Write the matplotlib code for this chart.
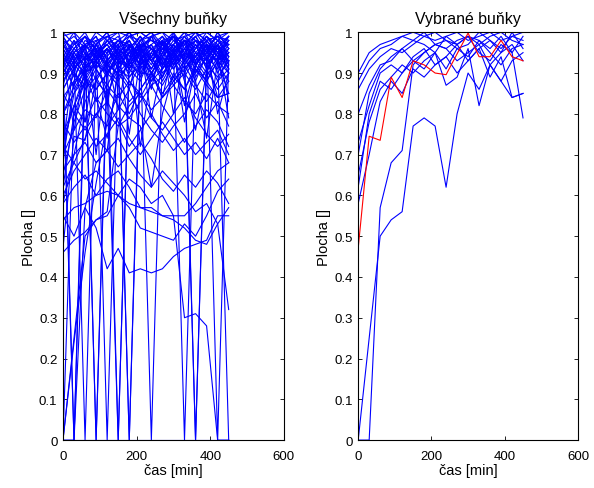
import matplotlib
matplotlib.use('Agg')
import matplotlib.pyplot as plt

plt.rcParams['font.family'] = ['Liberation Sans', 'DejaVu Sans']
plt.rcParams['font.size'] = 9.5

# time axis [min]
cas = [0, 30, 60, 90, 120, 150, 180, 210, 240, 270, 300, 330, 360, 390, 420, 450]

# cells that stay near full area
top_band = [
    [0.97, 0.99, 0.96, 1.00, 0.98, 0.97, 0.99, 1.00, 0.98, 0.96, 0.99, 0.97, 1.00, 0.98, 0.99, 0.97],
    [0.93, 0.97, 1.00, 0.95, 0.97, 0.99, 0.94, 0.98, 1.00, 0.97, 0.95, 0.99, 0.96, 1.00, 0.98, 0.95],
    [0.99, 0.94, 0.97, 0.99, 0.93, 0.96, 1.00, 0.95, 0.97, 0.99, 0.96, 0.93, 0.98, 0.97, 0.94, 0.99],
    [0.90, 0.95, 0.92, 0.97, 1.00, 0.94, 0.96, 0.99, 0.93, 0.97, 1.00, 0.96, 0.94, 0.99, 0.96, 0.93],
    [0.96, 1.00, 0.93, 0.95, 0.98, 1.00, 0.92, 0.96, 0.99, 0.94, 0.97, 1.00, 0.95, 0.93, 0.98, 1.00],
    [0.88, 0.92, 0.96, 0.91, 0.95, 0.98, 0.96, 0.90, 0.94, 0.98, 0.92, 0.95, 0.99, 0.94, 0.97, 0.92],
    [0.95, 0.89, 0.94, 0.98, 0.92, 0.90, 0.97, 0.94, 0.91, 0.96, 0.99, 0.93, 0.90, 0.96, 0.99, 0.94],
    [1.00, 0.97, 0.99, 0.93, 0.96, 0.92, 0.95, 0.99, 0.96, 0.92, 0.95, 0.98, 0.97, 0.91, 0.95, 0.98],
    [0.92, 0.98, 0.90, 0.93, 0.89, 0.95, 0.91, 0.88, 0.95, 0.99, 0.93, 0.89, 0.94, 0.97, 0.92, 0.88],
    [0.86, 0.91, 0.95, 0.88, 0.93, 0.96, 0.89, 0.93, 0.90, 0.87, 0.92, 0.96, 0.91, 0.88, 0.93, 0.96],
    [0.94, 0.90, 0.87, 0.92, 0.96, 0.91, 0.87, 0.92, 0.96, 0.93, 0.88, 0.91, 0.95, 0.92, 0.89, 0.93],
    [0.98, 0.93, 0.98, 0.96, 0.91, 0.88, 0.93, 0.97, 0.88, 0.91, 0.97, 0.94, 0.88, 0.95, 1.00, 0.96],
    [0.84, 0.88, 0.91, 0.94, 0.90, 0.93, 0.98, 0.91, 0.94, 0.89, 0.94, 0.98, 0.92, 0.96, 0.90, 0.95],
    [0.91, 0.96, 0.99, 0.97, 1.00, 0.95, 0.98, 0.93, 0.99, 1.00, 0.96, 0.98, 0.93, 0.97, 0.96, 0.99],
    [0.97, 0.92, 0.89, 0.86, 0.90, 0.87, 0.83, 0.86, 0.90, 0.85, 0.89, 0.86, 0.91, 0.87, 0.84, 0.88],
    [0.72, 0.93, 0.78, 0.96, 0.82, 0.97, 0.75, 0.94, 0.86, 0.98, 0.80, 0.95, 0.88, 0.74, 0.93, 0.85],
    [0.95, 0.76, 0.92, 0.70, 0.94, 0.81, 0.97, 0.72, 0.90, 0.84, 0.96, 0.78, 0.92, 0.97, 0.80, 0.90],
    [0.68, 0.88, 0.97, 0.84, 0.74, 0.90, 0.86, 0.97, 0.79, 0.92, 0.97, 0.88, 0.76, 0.90, 0.97, 0.83],
    [0.99, 1.00, 0.97, 0.94, 0.99, 0.96, 0.93, 0.98, 1.00, 0.95, 0.92, 0.97, 1.00, 0.96, 0.93, 0.98],
    [0.87, 0.95, 0.99, 0.96, 0.90, 0.94, 0.99, 0.96, 0.91, 0.95, 0.99, 0.92, 0.96, 0.99, 0.97, 0.91],
    [0.94, 0.86, 0.91, 0.97, 0.94, 0.89, 0.92, 0.97, 0.93, 0.88, 0.93, 0.98, 0.90, 0.94, 0.88, 0.94],
    [0.82, 0.90, 0.86, 0.91, 0.87, 0.92, 0.88, 0.84, 0.89, 0.93, 0.87, 0.90, 0.86, 0.91, 0.86, 0.90],
]

# cells in the middle of the range
mid_band = [
    [0.80, 0.85, 0.89, 0.83, 0.87, 0.84, 0.88, 0.85, 0.81, 0.84, 0.87, 0.83, 0.80, 0.85, 0.82, 0.80],
    [0.75, 0.82, 0.78, 0.84, 0.80, 0.77, 0.82, 0.85, 0.79, 0.76, 0.80, 0.84, 0.79, 0.75, 0.72, 0.75],
    [0.70, 0.76, 0.81, 0.79, 0.86, 0.82, 0.79, 0.83, 0.87, 0.82, 0.78, 0.73, 0.77, 0.81, 0.78, 0.72],
    [0.78, 0.73, 0.77, 0.72, 0.75, 0.79, 0.74, 0.70, 0.74, 0.78, 0.74, 0.70, 0.73, 0.69, 0.74, 0.68],
    [0.62, 0.68, 0.74, 0.80, 0.77, 0.81, 0.86, 0.80, 0.76, 0.73, 0.77, 0.80, 0.85, 0.79, 0.83, 0.77],
    [0.85, 0.80, 0.76, 0.80, 0.83, 0.78, 0.72, 0.76, 0.80, 0.75, 0.71, 0.74, 0.70, 0.73, 0.76, 0.70],
    [0.46, 0.49, 0.51, 0.54, 0.55, 0.60, 0.58, 0.57, 0.56, 0.55, 0.54, 0.52, 0.49, 0.48, 0.53, 0.57],
    [0.55, 0.50, 0.57, 0.52, 0.42, 0.47, 0.41, 0.42, 0.41, 0.42, 0.45, 0.47, 0.48, 0.49, 0.55, 0.55],
    [0.58, 0.62, 0.65, 0.60, 0.61, 0.60, 0.57, 0.52, 0.51, 0.50, 0.49, 0.53, 0.50, 0.55, 0.61, 0.64],
    [0.54, 0.57, 0.58, 0.60, 0.64, 0.66, 0.62, 0.57, 0.57, 0.55, 0.55, 0.55, 0.58, 0.62, 0.66, 0.68],
    [0.72, 0.68, 0.64, 0.66, 0.63, 0.60, 0.64, 0.62, 0.58, 0.60, 0.55, 0.30, 0.31, 0.28, 0.00, 0.00],
    [0.66, 0.70, 0.73, 0.68, 0.71, 0.74, 0.69, 0.65, 0.62, 0.66, 0.63, 0.60, 0.56, 0.58, 0.53, 0.32],
    [0.60, 0.66, 0.70, 0.74, 0.71, 0.67, 0.70, 0.73, 0.69, 0.64, 0.61, 0.65, 0.62, 0.66, 0.63, 0.58],
]

# cells that are lost for one frame
zero_drops = [
    [0.93, 0.00, 0.90, 0.95, 0.97, 0.93, 0.96, 0.99, 0.94, 0.97, 0.92, 0.96, 0.99, 0.95, 0.93, 0.97],
    [0.97, 0.94, 0.00, 0.93, 0.98, 0.95, 0.91, 0.96, 0.99, 0.94, 0.97, 0.93, 0.96, 0.99, 0.95, 0.91],
    [0.89, 0.93, 0.97, 0.00, 0.94, 0.98, 0.93, 0.89, 0.95, 0.92, 0.96, 0.99, 0.94, 0.90, 0.97, 0.94],
    [0.99, 0.95, 0.91, 0.96, 0.00, 0.92, 0.97, 0.94, 0.90, 0.95, 0.99, 0.93, 0.97, 0.94, 0.91, 0.96],
    [0.94, 0.98, 0.95, 0.92, 0.96, 0.00, 0.94, 0.98, 0.93, 0.96, 0.91, 0.95, 0.98, 0.93, 0.97, 0.99],
    [0.91, 0.87, 0.93, 0.97, 0.92, 0.95, 0.00, 0.93, 0.97, 0.91, 0.94, 0.98, 0.92, 0.96, 0.93, 0.90],
    [0.98, 0.96, 0.99, 0.94, 0.97, 0.93, 0.00, 0.96, 0.92, 0.98, 0.95, 0.91, 0.94, 0.98, 0.95, 0.93],
    [0.92, 0.96, 0.93, 0.97, 0.91, 0.96, 0.93, 0.97, 0.00, 0.94, 0.98, 0.95, 0.92, 0.97, 0.94, 0.98],
    [0.96, 0.92, 0.97, 0.93, 0.98, 0.94, 0.90, 0.95, 0.97, 0.92, 0.96, 0.00, 0.93, 0.97, 0.92, 0.95],
    [0.90, 0.94, 0.89, 0.93, 0.96, 0.91, 0.95, 0.92, 0.88, 0.94, 0.91, 0.95, 0.00, 0.92, 0.96, 0.91],
    [0.95, 0.91, 0.96, 0.99, 0.93, 0.97, 0.92, 0.96, 0.93, 0.97, 0.94, 0.90, 0.95, 0.98, 0.00, 0.93],
    [0.97, 0.93, 0.90, 0.95, 0.92, 0.96, 0.98, 0.93, 0.96, 0.91, 0.95, 0.98, 0.93, 0.89, 0.94, 0.00],
    [0.00, 0.82, 0.88, 0.93, 0.90, 0.95, 0.97, 0.92, 0.95, 0.98, 0.93, 0.96, 0.92, 0.95, 0.98, 0.94],
    [0.00, 0.24, 0.46, 0.63, 0.78, 0.85, 0.80, 0.86, 0.90, 0.84, 0.88, 0.92, 0.87, 0.83, 0.88, 0.91],
    [0.88, 0.00, 0.95, 0.91, 0.86, 0.00, 0.93, 0.97, 0.90, 0.94, 0.89, 0.93, 0.97, 0.91, 0.95, 0.90],
    [0.96, 0.91, 0.94, 0.00, 0.90, 0.95, 0.91, 0.96, 0.93, 0.89, 0.95, 0.92, 0.00, 0.94, 0.97, 0.92],
    [0.00, 0.00, 0.00, 0.00, 0.00, 0.00, 0.00, 0.00, 0.00, 0.00, 0.00, 0.00, 0.00, 0.00, 0.00, 0.00],
]

# selected cells (right panel, also part of all cells)
selected_blue = [
    [0.00, 0.00, 0.57, 0.68, 0.71, 0.92, 0.95, 0.97, 0.98, 0.97, 0.99, 0.98, 0.96, 0.99, 0.95, 0.79],
    [0.00, 0.25, 0.50, 0.54, 0.56, 0.77, 0.79, 0.77, 0.62, 0.80, 0.90, 0.86, 0.92, 0.88, 0.93, 0.95],
    [0.90, 0.95, 0.97, 0.98, 0.99, 1.00, 0.99, 0.98, 0.99, 1.00, 0.98, 0.99, 1.00, 0.98, 0.99, 1.00],
    [0.88, 0.93, 0.96, 0.97, 0.99, 0.98, 1.00, 0.97, 0.96, 0.98, 0.99, 0.97, 0.99, 1.00, 0.98, 0.97],
    [0.86, 0.91, 0.94, 0.96, 0.95, 0.97, 0.99, 1.00, 0.98, 0.96, 0.97, 1.00, 0.98, 0.96, 0.99, 0.98],
    [0.80, 0.87, 0.92, 0.93, 0.96, 0.98, 0.97, 0.95, 0.99, 0.97, 0.93, 0.96, 0.98, 0.95, 1.00, 0.96],
    [0.73, 0.82, 0.90, 0.92, 0.90, 0.94, 0.96, 0.92, 0.94, 0.97, 0.99, 0.95, 0.93, 0.97, 0.95, 0.99],
    [0.65, 0.78, 0.86, 0.89, 0.92, 0.90, 0.93, 0.95, 0.91, 0.96, 0.94, 0.98, 0.95, 0.92, 0.96, 0.97],
    [0.58, 0.70, 0.83, 0.88, 0.85, 0.91, 0.89, 0.92, 0.94, 0.90, 0.93, 0.96, 0.89, 0.94, 0.84, 0.85],
    [0.62, 0.80, 0.88, 0.86, 0.90, 0.93, 0.91, 0.95, 0.87, 0.89, 0.96, 0.82, 0.92, 0.88, 0.84, 0.85],
    [0.70, 0.85, 0.91, 0.94, 0.96, 0.93, 0.95, 0.97, 0.96, 0.93, 0.95, 0.97, 0.92, 0.95, 0.97, 0.93],
]
selected_red = [0.47, 0.745, 0.735, 0.89, 0.84, 0.93, 0.92, 0.90, 0.896, 0.947, 0.998,
                0.94, 0.94, 0.98, 0.94, 0.93]

fig = plt.figure(figsize=(5.94, 4.89), dpi=100)
ax1 = fig.add_axes([0.106, 0.098, 0.372, 0.834])
ax2 = fig.add_axes([0.603, 0.098, 0.370, 0.834])

for cell in top_band + mid_band + zero_drops + selected_blue + [selected_red]:
    ax1.plot(cas, cell, color='#0000ff', lw=0.8)

for cell in selected_blue:
    ax2.plot(cas, cell, color='#0000ff', lw=0.8)
ax2.plot(cas, selected_red, color='#ff0000', lw=0.8)

for ax, title in [(ax1, 'Všechny buňky'), (ax2, 'Vybrané buňky')]:
    ax.set_xlim(0, 600)
    ax.set_ylim(0, 1)
    ax.set_xticks([0, 200, 400, 600])
    ax.set_yticks([0, 0.1, 0.2, 0.3, 0.4, 0.5, 0.6, 0.7, 0.8, 0.9, 1])
    ax.set_yticklabels(['0', '0.1', '0.2', '0.3', '0.4', '0.5', '0.6', '0.7', '0.8', '0.9', '1'])
    ax.tick_params(direction='in', top=True, right=True, length=3, width=0.6)
    ax.tick_params(axis='x', pad=7)
    ax.tick_params(axis='y', pad=4)
    for s in ax.spines.values():
        s.set_linewidth(0.8)
    ax.set_title(title, pad=7)
    ax.set_xlabel('čas [min]', fontsize=10.5, labelpad=1)
    ax.set_ylabel('Plocha []', fontsize=10.5, labelpad=2)

fig.savefig('out.png', dpi=100)
